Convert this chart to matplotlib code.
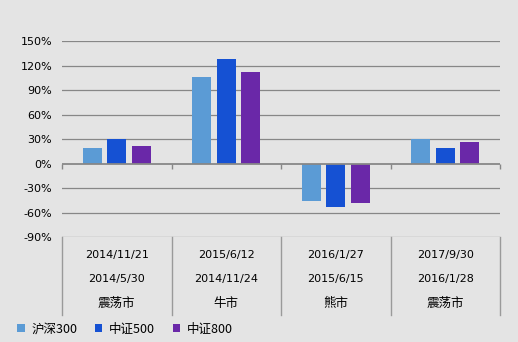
import matplotlib
matplotlib.use("Agg")
import matplotlib.pyplot as plt
from matplotlib.transforms import blended_transform_factory
from matplotlib.lines import Line2D
import numpy as np

plt.rcParams['font.family'] = ['DejaVu Sans', 'Noto Sans CJK SC']

end_dates = ["2014/11/21", "2015/6/12", "2016/1/27", "2017/9/30"]
start_dates = ["2014/5/30", "2014/11/24", "2015/6/15", "2016/1/28"]
regimes = ["震荡市", "牛市", "熊市", "震荡市"]
series_names = ["沪深300", "中证500", "中证800"]
hs300 = [19.5, 106.5, -45.0, 30.5]
zz500 = [30.5, 128.5, -52.5, 19.5]
zz800 = [22.0, 112.5, -47.5, 27.0]
yticks = [-90, -60, -30, 0, 30, 60, 90, 120, 150]

colors = ["#5b9bd5", "#1551d3", "#6a28a8"]
bg = "#e4e4e4"
grid_c = "#878787"

W, H = 518, 342
fig = plt.figure(figsize=(W / 100, H / 100), dpi=100, facecolor=bg)
ax = fig.add_axes([62 / W, 1 - 237.3 / H, (500 - 62) / W, (237.3 - 41.3) / H])
ax.set_facecolor(bg)

x = np.arange(len(end_dates))
bw = 0.1735
step = 0.2237
handles = []
for i, (vals, c, name) in enumerate(zip([hs300, zz500, zz800], colors, series_names)):
    h = ax.bar(x + (i - 1) * step, vals, width=bw, color=c, label=name, zorder=3)
    handles.append(h)

ax.set_ylim(-90, 150)
ax.set_xlim(-0.5, len(end_dates) - 0.5)
ax.set_yticks(yticks)
ax.set_yticklabels([f"{v}%" for v in yticks], fontsize=8)
ax.tick_params(axis='y', length=0, pad=7)
for v in yticks:
    if v != 0:
        ax.axhline(v, color=grid_c, lw=0.9, zorder=1)
ax.axhline(0, color=grid_c, lw=1.3, zorder=4)

bounds = np.arange(len(end_dates) + 1) - 0.5
ax.set_xticks(bounds)
ax.set_xticklabels([])
ax.tick_params(axis='x', length=3.8, width=1.0, color=grid_c, direction='out')
ax.spines['bottom'].set_position(('data', 0))
ax.spines['bottom'].set_visible(False)
for s in ['top', 'right', 'left']:
    ax.spines[s].set_visible(False)

tr = blended_transform_factory(ax.transData, fig.transFigure)
for b in bounds:
    ax.add_line(Line2D([b, b], [1 - 237.3 / H, 1 - 315 / H], transform=tr,
                       color="#9a9a9a", lw=1.0, clip_on=False))

rows_y = [254.7, 279.0, 303.7]
for xi, (e, s, r) in enumerate(zip(end_dates, start_dates, regimes)):
    ax.text(xi, 1 - rows_y[0] / H, e, transform=tr, ha='center', va='center',
            fontsize=8, family=['DejaVu Sans'], color='black')
    ax.text(xi, 1 - rows_y[1] / H, s, transform=tr, ha='center', va='center',
            fontsize=8, family=['DejaVu Sans'], color='black')
    ax.text(xi, 1 - rows_y[2] / H, r, transform=tr, ha='center', va='center',
            fontsize=9, family=['Noto Sans CJK SC', 'DejaVu Sans'], color='black')

leg = fig.legend(handles=handles, labels=series_names, loc='center left',
                 bbox_to_anchor=(17 / W, 1 - 329 / H), ncol=3, frameon=False,
                 prop={'family': ['Noto Sans CJK SC', 'DejaVu Sans'], 'size': 9},
                 handlelength=0.6, handleheight=0.6, handletextpad=0.55,
                 columnspacing=1.4, borderpad=0, borderaxespad=0)

fig.savefig("out.png", dpi=100, facecolor=bg)
